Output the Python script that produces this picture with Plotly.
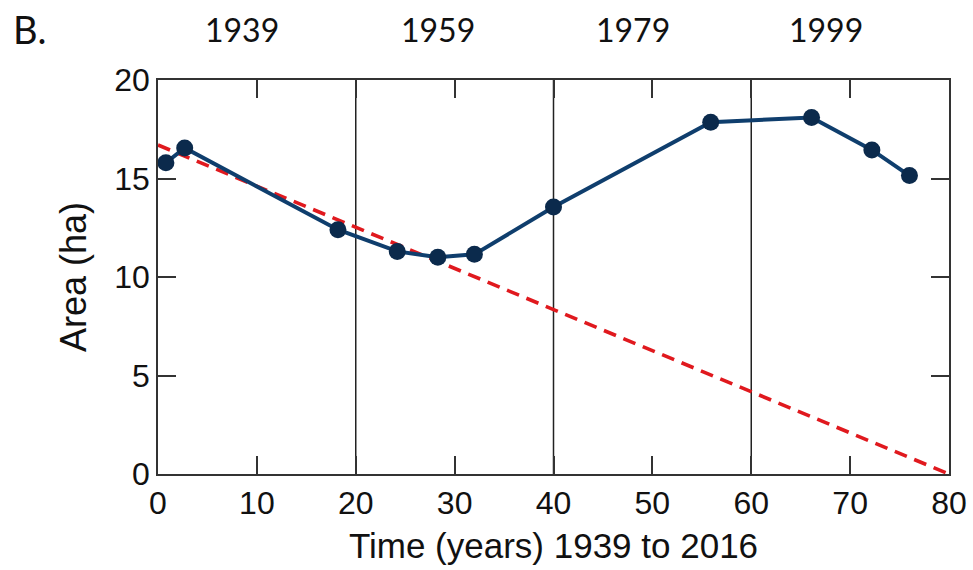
import plotly.graph_objects as go

# Data
years_x = [0.8, 2.7, 18.2, 24.2, 28.3, 32.0, 40.0, 55.9, 66.1, 72.2, 76.0]
area_ha = [15.8, 16.55, 12.4, 11.3, 11.0, 11.15, 13.55, 17.85, 18.1, 16.45, 15.15]

trend_x = [0, 80]
trend_y = [16.7, 0.0]

divider_x = [20, 40, 60]

top_label_x = [8.5, 28.3, 48.0, 67.6]
top_label_text = ["1939", "1959", "1979", "1999"]

AX_FONT = "Liberation Sans, Arial, sans-serif"
TOP_FONT = "Lato, Carlito, Calibri, sans-serif"

W, H = 973, 570
ML, MR, MT, MB = 158, 24, 80, 96
plot_w = W - ML - MR
plot_h = H - MT - MB

fig = go.Figure()

fig.add_trace(go.Scatter(
    x=trend_x, y=trend_y, mode="lines",
    line=dict(color="#e0191e", width=3.6, dash="13px,8px"),
    showlegend=False, hoverinfo="skip",
))

fig.add_trace(go.Scatter(
    x=years_x, y=area_ha, mode="lines+markers",
    line=dict(color="#0f3e6d", width=4),
    marker=dict(color="#0b2a4c", size=17),
    showlegend=False,
))

for xv in divider_x:
    fig.add_shape(type="line", xref="x", yref="paper", x0=xv, x1=xv, y0=0, y1=1,
                  line=dict(color="#222222", width=1.5), layer="below")

for xv, txt in zip(top_label_x, top_label_text):
    fig.add_annotation(x=xv, xref="x", y=1 + (MT - 30) / plot_h, yref="paper",
                       yanchor="middle", text=txt, showarrow=False,
                       font=dict(family=TOP_FONT, size=32, color="#111111"))

fig.add_annotation(x=(11 - ML) / plot_w, xref="paper", xanchor="left",
                   y=1 + (MT - 29) / plot_h, yref="paper", yanchor="middle",
                   text="B.", showarrow=False,
                   font=dict(family=TOP_FONT, size=38, color="#111111"))

fig.update_layout(
    width=W, height=H,
    margin=dict(l=ML, r=MR, t=MT, b=MB),
    paper_bgcolor="white", plot_bgcolor="white",
    font=dict(family=AX_FONT, size=32, color="#111111"),
)

fig.update_xaxes(
    range=[0, 80], tick0=0, dtick=10, automargin=False,
    ticks="inside", ticklen=18, tickwidth=1.5, tickcolor="#333333",
    showline=True, linecolor="#333333", linewidth=1.5, mirror="ticks",
    showgrid=False, zeroline=False,
    tickfont=dict(family=AX_FONT, size=32, color="#111111"),
    title=dict(text="Time (years) 1939 to 2016", standoff=13,
               font=dict(family=AX_FONT, size=35, color="#111111")),
)
fig.update_yaxes(
    range=[0, 20], tick0=0, dtick=5, automargin=False,
    ticks="inside", ticklen=18, tickwidth=1.5, tickcolor="#333333",
    showline=True, linecolor="#333333", linewidth=1.5, mirror="ticks",
    showgrid=False, zeroline=False,
    tickfont=dict(family=AX_FONT, size=32, color="#111111"),
    title=dict(text="Area (ha)", standoff=17,
               font=dict(family=AX_FONT, size=36, color="#111111")),
)

fig.write_html("out.html")
